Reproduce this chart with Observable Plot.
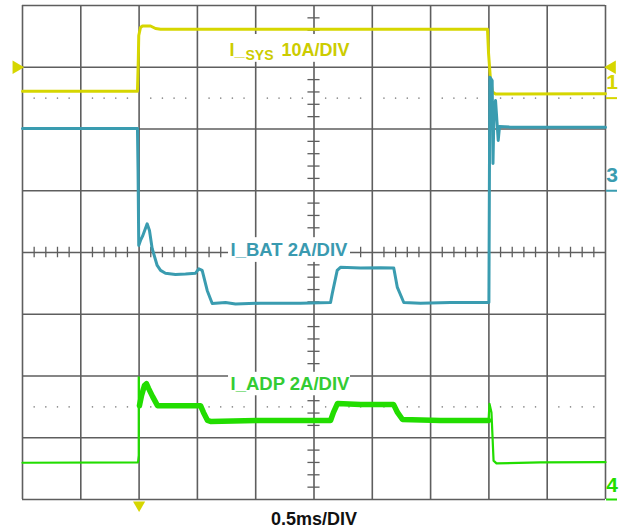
<!DOCTYPE html>
<html>
<head>
<meta charset="utf-8">
<script src="https://cdn.jsdelivr.net/npm/d3@7"></script>
<script src="https://cdn.jsdelivr.net/npm/@observablehq/plot@0.6"></script>
<style>
  html, body { margin: 0; padding: 0; background: #fff; }
</style>
</head>
<body>
<div id="chart"></div>
<script>
// ---- Channel settings (A/div and ground position in divisions from screen centre)
const sysScale = 10, sysGround = 2.5;   // I_SYS 10A/DIV, marker "1"
const batScale = 2,  batGround = 1.0;   // I_BAT 2A/DIV,  marker "3"
const adpScale = 2,  adpGround = -4.0;  // I_ADP 2A/DIV,  marker "4"

// ---- Time axis: 0.5 ms/DIV, trigger at t = 0
const timeDomain = [-1, 4];
const divDomain = [-4, 4];

// ---- I_SYS trace (ms, A)
const sysT = [-1.000, -0.014, -0.007, -0.003, 0.012, 0.029, 0.098, 0.141, 0.184, 2.988, 2.997, 3.014, 3.031, 3.057, 4.000];
const sysA = [1.12, 1.12, 6.09, 10.14, 11.44, 11.68, 11.68, 11.27, 11.16, 11.16, 7.23, 2.85, 0.99, 0.67, 0.70];

// ---- I_BAT trace (ms, A)
const batT = [-1.000, -0.014, -0.009, -0.003, 0.012, 0.029, 0.069, 0.089, 0.112, 0.155, 0.184, 0.226, 0.312, 0.398, 0.484, 0.512, 0.541, 0.584, 0.627, 0.741, 0.827, 1.041, 1.384, 1.642, 1.656, 1.699, 1.727, 1.899, 2.070, 2.184, 2.214, 2.270, 2.413, 2.671, 3.000, 3.008, 3.028, 3.035, 3.044, 3.057, 3.080, 3.091, 3.185, 4.000];
const batA = [2.02, 2.02, 0.66, -1.77, -1.61, -1.48, -1.07, -1.29, -1.87, -2.42, -2.58, -2.67, -2.71, -2.70, -2.67, -2.53, -2.58, -3.23, -3.65, -3.62, -3.67, -3.64, -3.64, -3.62, -3.34, -2.58, -2.48, -2.50, -2.49, -2.50, -3.12, -3.62, -3.64, -3.62, -3.62, 3.68, 3.57, 0.88, 2.60, 2.92, 1.63, 2.08, 2.06, 2.06];

// ---- I_ADP trace (ms, A)
const adpT = [-1.000, -0.009, -0.003, -0.003, 0.003, 0.021, 0.046, 0.063, 0.081, 0.115, 0.158, 0.355, 0.527, 0.552, 0.587, 0.612, 1.041, 1.642, 1.667, 1.702, 1.899, 2.182, 2.216, 2.259, 2.585, 2.997, 3.005, 3.022, 3.040, 3.065, 3.443, 4.000];
const adpA = [1.19, 1.20, 1.43, 3.96, 3.04, 3.37, 3.69, 3.75, 3.60, 3.34, 3.04, 3.04, 3.04, 2.82, 2.56, 2.53, 2.56, 2.56, 2.82, 3.11, 3.08, 3.08, 2.82, 2.59, 2.56, 2.56, 3.10, 2.82, 1.26, 1.17, 1.20, 1.21];

// ---- Texts
const timeLabel = "0.5ms/DIV";
const batLabel = "I_BAT 2A/DIV";
const adpLabel = "I_ADP 2A/DIV";
const sysLabelParts = ["I_", "SYS", "10A/DIV"];
const channelMarks = ["1", "3", "4"];

// ---- Colours
const cSys = "#d6d600", cSysText = "#cccc00";
const cBat = "#3a9cb0", cBatText = "#3a9ab0";
const cAdp = "#22dd00", cAdpText = "#33cc33";
const cGrid = "#5e5e5e";

// ---- Build tables (convert amps to screen divisions)
const toRows = (T, A, scale, ground) => T.map((t, i) => ({t, y: A[i] / scale + ground}));
const sys = toRows(sysT, sysA, sysScale, sysGround);
const bat = toRows(batT, batA, batScale, batGround);
const adp = toRows(adpT, adpA, adpScale, adpGround);

const majorX = d3.range(0, 11).map(i => timeDomain[0] + i * 0.5);
const majorY = d3.range(-4, 5);
const minorX = d3.range(0, 51).map(i => timeDomain[0] + i * 0.1).filter(v => Math.abs(v * 2 - Math.round(v * 2)) > 1e-6);
const minorY = d3.range(0, 41).map(i => -4 + i * 0.2).filter(v => Math.abs(v - Math.round(v)) > 1e-6);
const dotted = [2.5, -2.5].flatMap(y => minorX.map(t => ({t, y})));

const boxes = [
  {x1: 0.758, x2: 1.813, y1: 3.08, y2: 3.53},
  {x1: 0.767, x2: 1.813, y1: -0.16, y2: 0.24},
  {x1: 0.767, x2: 1.813, y1: -2.32, y2: -1.94}
];

const font = "Liberation Sans, Arial, Helvetica, sans-serif";

const chart = Plot.plot({
  width: 621,
  height: 531,
  marginLeft: 22,
  marginRight: 16,
  marginTop: 5,
  marginBottom: 32,
  x: {domain: timeDomain, axis: null},
  y: {domain: divDomain, axis: null},
  style: {background: "#fff", fontFamily: font},
  marks: [
    Plot.ruleX(majorX, {stroke: cGrid, strokeWidth: 1.6}),
    Plot.ruleY(majorY, {stroke: cGrid, strokeWidth: 1.6}),
    Plot.ruleX(minorX, {x: d => d, y1: -0.085, y2: 0.085, stroke: cGrid, strokeWidth: 1.3}),
    Plot.ruleY(minorY, {y: d => d, x1: 1.5 - 0.052, x2: 1.5 + 0.052, stroke: cGrid, strokeWidth: 1.3}),
    Plot.dot(dotted, {x: "t", y: "y", r: 0.8, fill: "#888", stroke: null}),
    Plot.rect(boxes, {x1: "x1", x2: "x2", y1: "y1", y2: "y2", fill: "#fff"}),
    // traces
    Plot.line(sys, {x: "t", y: "y", stroke: cSys, strokeWidth: 3}),
    Plot.line(bat, {x: "t", y: "y", stroke: cBat, strokeWidth: 3}),
    Plot.line(adp, {x: "t", y: "y", stroke: cAdp, strokeWidth: 2.2}),
    Plot.line(adp.filter(d => d.t > 0.0 && d.t < 3.0), {x: "t", y: "y", stroke: cAdp, strokeWidth: 5.5}),
    // labels
    Plot.text([sysLabelParts[0]], {x: 0.775, y: 3.283, text: d => d, fill: cSysText, fontSize: 18, fontWeight: "bold", textAnchor: "start"}),
    Plot.text([sysLabelParts[1]], {x: 0.9125, y: 3.195, text: d => d, fill: cSysText, fontSize: 14, fontWeight: "bold", textAnchor: "start"}),
    Plot.text([sysLabelParts[2]], {x: 1.221, y: 3.283, text: d => d, fill: cSysText, fontSize: 18, fontWeight: "bold", textAnchor: "start"}),
    Plot.text([batLabel], {x: 0.784, y: 0.037, text: d => d, fill: cBatText, fontSize: 18.5, fontWeight: "bold", textAnchor: "start"}),
    Plot.text([adpLabel], {x: 0.784, y: -2.126, text: d => d, fill: cAdpText, fontSize: 18.5, fontWeight: "bold", textAnchor: "start"}),
    // channel ground markers on the right
    Plot.text([
      {s: channelMarks[0], y: sysGround + 0.258, c: cSys},
      {s: channelMarks[1], y: batGround + 0.247, c: cBat},
      {s: channelMarks[2], y: adpGround + 0.227, c: cAdp}
    ], {x: 4.056, y: "y", text: "s", fill: "c", fontSize: 21, fontWeight: "bold", textAnchor: "middle"}),
    Plot.ruleY([
      {y: sysGround, c: cSys}, {y: batGround, c: cBat}, {y: adpGround, c: cAdp}
    ], {y: "y", x1: 4.009, x2: 4.103, stroke: "c", strokeWidth: 2}),
    // trigger level markers
    Plot.dot([{t: -1.052, y: 3.0}], {x: "t", y: "y", symbol: "triangle", rotate: 90, r: 5, fill: cSys, stroke: null}),
    Plot.dot([{t: 4.055, y: 3.0}], {x: "t", y: "y", symbol: "triangle", rotate: -90, r: 5, fill: cSys, stroke: null}),
    // trigger position marker
    Plot.dot([{t: 0, y: -4.09}], {x: "t", y: "y", symbol: "triangle", rotate: 180, r: 4.5, fill: cSys, stroke: null}),
    // time base text
    Plot.text([timeLabel], {x: 1.5, y: -4, dy: 19.5, text: d => d, fill: "#111", fontSize: 18, fontWeight: "bold"})
  ]
});

document.getElementById("chart").appendChild(chart);
</script>
</body>
</html>
